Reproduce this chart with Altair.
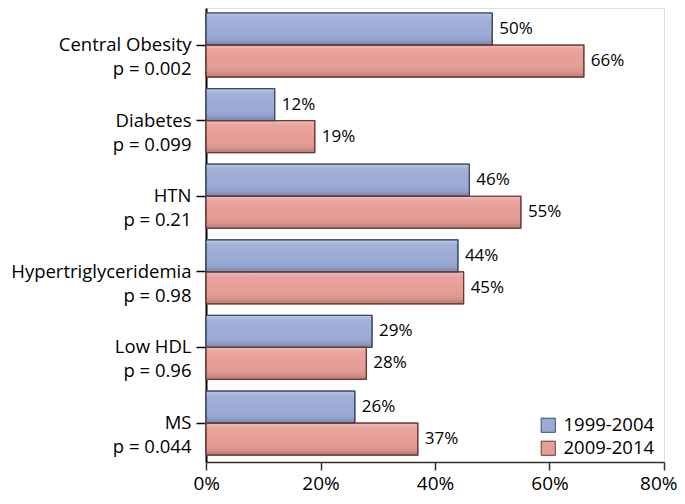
import altair as alt
import pandas as pd

categories = ["Central Obesity", "Diabetes", "HTN", "Hypertriglyceridemia", "Low HDL", "MS"]
pvalues = ["p = 0.002", "p = 0.099", "p = 0.21", "p = 0.98", "p = 0.96", "p = 0.044"]
series = ["1999-2004", "2009-2014"]
values_1999 = [50, 12, 46, 44, 29, 26]
values_2009 = [66, 19, 55, 45, 28, 37]
x_ticks = [0, 0.2, 0.4, 0.6, 0.8]

fills = ["#9aabd6", "#e69d95"]
strokes = ["#3b4a6c", "#6d3b36"]

rows = []
for c, p, a, b in zip(categories, pvalues, values_1999, values_2009):
    lab = c + "|" + p
    rows.append({"cat": lab, "series": series[0], "value": a / 100})
    rows.append({"cat": lab, "series": series[1], "value": b / 100})
df = pd.DataFrame(rows)
cat_order = [c + "|" + p for c, p in zip(categories, pvalues)]

FONT = "Open Sans"

y_enc = alt.Y(
    "cat:N",
    sort=cat_order,
    title=None,
    scale=alt.Scale(paddingInner=0.153, paddingOuter=0.079, align=0.42),
    axis=alt.Axis(
        labelExpr="split(datum.label, '|')",
        labelFontSize=18.5,
        labelFont=FONT,
        labelColor="#000000",
        labelPadding=5,
        labelLineHeight=24,
        tickSize=10,
        tickColor="#000000",
        tickWidth=1.5,
        domainColor="#000000",
        domainWidth=2,
        labelLimit=300,
    ),
)
yoff = alt.YOffset("series:N", sort=series, scale=alt.Scale(paddingInner=0, paddingOuter=0))
x_enc = alt.X(
    "value:Q",
    title=None,
    scale=alt.Scale(domain=[0, 0.8], nice=False, zero=True),
    axis=alt.Axis(
        values=x_ticks,
        format=".0%",
        grid=False,
        labelFontSize=19,
        labelFont=FONT,
        labelColor="#000000",
        labelPadding=4,
        labelFlush=True,
        labelFlushOffset=13,
        tickSize=8,
        tickColor="#333333",
        tickWidth=1.5,
        domainColor="#333333",
        domainWidth=1.5,
    ),
)

base = alt.Chart(df)

legend_cfg = dict(
    title=None,
    orient="none",
    legendX=333,
    legendY=408,
    symbolType="square",
    symbolSize=200,
    symbolStrokeWidth=1,
    labelFontSize=18.5,
    labelFont=FONT,
    labelColor="#000000",
    rowPadding=4,
    labelOffset=6,
)

fill_layer = base.mark_bar(strokeWidth=1).encode(
    x=x_enc,
    y=y_enc,
    yOffset=yoff,
    fill=alt.Fill(
        "series:N",
        sort=series,
        scale=alt.Scale(domain=series, range=fills),
        legend=alt.Legend(**legend_cfg),
    ),
    stroke=alt.Stroke(
        "series:N",
        sort=series,
        scale=alt.Scale(domain=series, range=strokes),
        legend=alt.Legend(**legend_cfg),
    ),
)

grad = alt.Gradient(
    gradient="linear",
    x1=0, y1=0, x2=0, y2=1,
    stops=[
        alt.GradientStop(offset=0, color="rgba(255,255,255,0.35)"),
        alt.GradientStop(offset=0.15, color="rgba(255,255,255,0.08)"),
        alt.GradientStop(offset=0.55, color="rgba(255,255,255,0)"),
        alt.GradientStop(offset=0.85, color="rgba(0,0,0,0.07)"),
        alt.GradientStop(offset=1, color="rgba(0,0,0,0.22)"),
    ],
)
shade_layer = base.mark_bar(color=grad, strokeWidth=0).encode(
    x=x_enc, y=y_enc, yOffset=yoff
)
outline_layer = base.mark_bar(fillOpacity=0, strokeWidth=1.2).encode(
    x=x_enc,
    y=y_enc,
    yOffset=yoff,
    stroke=alt.Stroke("series:N", sort=series, scale=alt.Scale(domain=series, range=strokes), legend=None),
)
text_layer = base.mark_text(align="left", baseline="middle", dx=7, fontSize=17, font=FONT, color="#000000").encode(
    x=x_enc,
    y=y_enc,
    yOffset=yoff,
    text=alt.Text("value:Q", format=".0%"),
)

chart = (
    alt.layer(fill_layer, shade_layer, outline_layer, text_layer)
    .properties(
        width=458,
        height=454,
        autosize=alt.AutoSizeParams(type="none"),
        padding={"left": 198, "top": 0, "right": 13, "bottom": 34},
    )
    .configure_view(stroke=None)
    .configure(font=FONT)
)

chart.save("out.html", embed_options={"renderer": "svg", "actions": False})
